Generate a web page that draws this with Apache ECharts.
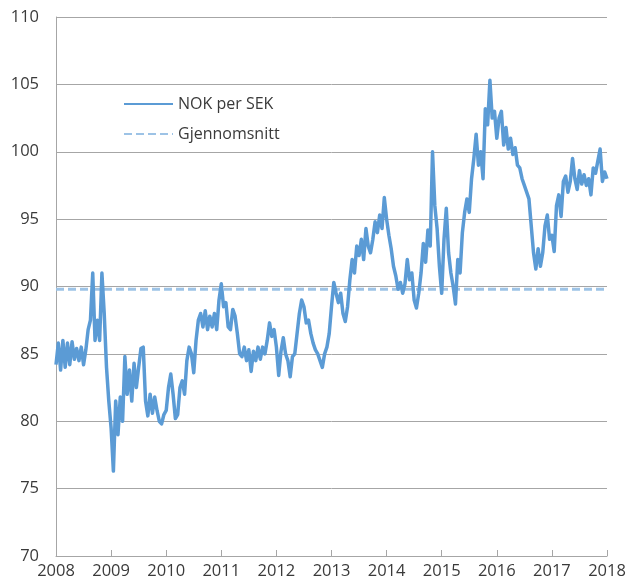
<!DOCTYPE html>
<html>
<head>
<meta charset="utf-8">
<script src="https://cdn.jsdelivr.net/npm/echarts@6/dist/echarts.min.js"></script>
<style>
  html, body { margin: 0; padding: 0; background: #fff; }
  #chart { width: 629px; height: 585px; }
</style>
</head>
<body>
<div id="chart"></div>
<script>
// NOK per SEK, half-monthly readings (24 per year), 2008–2017, plus the last reading
const startYear = 2008;
const stepsPerYear = 24;
const nok2008 = [84.2, 85.8, 83.8, 86.0, 84.0, 85.8, 84.2, 85.9, 84.6, 85.4, 84.5, 85.5, 84.2, 85.3, 86.8, 87.5, 91.0, 86.0, 87.5, 86.0, 91.0, 88.0, 84.0, 81.5];
const nok2009 = [79.5, 76.3, 81.5, 79.0, 81.8, 80.0, 84.8, 82.0, 83.8, 81.5, 84.3, 82.5, 84.0, 85.4, 85.5, 81.5, 80.4, 82.0, 80.6, 81.8, 80.8, 80.0, 79.8, 80.5];
const nok2010 = [80.8, 82.5, 83.5, 82.0, 80.2, 80.5, 82.5, 83.0, 82.0, 84.5, 85.5, 85.0, 83.6, 86.0, 87.5, 88.0, 87.0, 88.2, 86.8, 87.8, 87.0, 88.0, 86.8, 89.0];
const nok2011 = [90.2, 88.5, 88.8, 87.0, 86.8, 88.3, 87.8, 86.5, 85.0, 84.8, 85.5, 84.5, 85.3, 83.7, 85.2, 84.5, 85.5, 84.6, 85.5, 85.0, 86.0, 87.3, 86.3, 86.8];
const nok2012 = [85.5, 83.4, 85.2, 86.2, 85.0, 84.5, 83.3, 84.8, 85.0, 86.5, 88.0, 89.0, 88.5, 87.3, 87.5, 86.5, 85.8, 85.3, 85.0, 84.5, 84.0, 85.0, 85.5, 86.5];
const nok2013 = [88.5, 90.3, 89.5, 88.8, 89.5, 88.0, 87.4, 88.5, 90.5, 92.0, 91.0, 93.0, 92.3, 93.5, 92.0, 94.3, 93.0, 92.5, 93.5, 94.8, 94.0, 95.3, 94.3, 96.6];
const nok2014 = [95.0, 93.8, 92.8, 91.5, 90.8, 89.8, 90.3, 89.5, 90.2, 92.0, 90.5, 91.0, 89.0, 88.4, 89.5, 91.0, 93.2, 91.8, 94.2, 93.0, 100.0, 96.0, 94.3, 91.5];
const nok2015 = [89.5, 93.5, 95.8, 92.5, 91.0, 90.0, 88.7, 92.0, 91.0, 94.0, 95.5, 96.5, 95.5, 98.0, 99.5, 101.3, 99.0, 100.0, 98.0, 103.2, 102.0, 105.3, 102.5, 103.0];
const nok2016 = [101.0, 102.5, 103.0, 100.5, 101.8, 100.2, 101.0, 99.8, 100.3, 99.0, 98.8, 98.0, 97.5, 97.0, 96.5, 94.5, 92.5, 91.3, 92.8, 91.5, 92.5, 94.5, 95.3, 93.5];
const nok2017 = [93.8, 92.6, 96.0, 96.8, 95.2, 97.8, 98.2, 97.0, 97.8, 99.5, 98.0, 97.2, 98.6, 97.6, 98.3, 97.5, 98.0, 96.8, 98.8, 98.4, 99.3, 100.2, 97.8, 98.5];
const nokLast = [98.0];

// Average level over the period
const meanYears = [2008, 2018];
const meanLevel = [89.8, 89.8];

// Axis ticks
const yearTicks = [2008, 2009, 2010, 2011, 2012, 2013, 2014, 2015, 2016, 2017, 2018];
const valueTicks = [70, 75, 80, 85, 90, 95, 100, 105, 110];

const nokAll = [].concat(nok2008, nok2009, nok2010, nok2011, nok2012,
                         nok2013, nok2014, nok2015, nok2016, nok2017, nokLast);
const nokData = nokAll.map((v, i) => [startYear + i / stepsPerYear, v]);
const meanData = meanYears.map((y, i) => [y, meanLevel[i]]);

const font = "'Open Sans', 'Noto Sans', sans-serif";
const textColor = '#3a3a3a';
const gridColor = '#a6a6a6';

const chart = echarts.init(document.getElementById('chart'), null, { renderer: 'canvas' });
chart.setOption({
  animation: false,
  backgroundColor: '#ffffff',
  grid: { left: 56, right: 22, top: 17, bottom: 29, containLabel: false },
  legend: {
    orient: 'vertical',
    left: 123,
    top: 96,
    padding: 0,
    itemWidth: 49,
    itemHeight: 14,
    itemGap: 14,
    // line-only keys: hide the marker drawn in the middle of each key
    itemStyle: { opacity: 0 },
    textStyle: { fontFamily: font, fontSize: 16, color: textColor },
    data: ['NOK per SEK', 'Gjennomsnitt']
  },
  xAxis: {
    type: 'value',
    min: yearTicks[0],
    max: yearTicks[yearTicks.length - 1],
    interval: 1,
    axisLine: { show: true, lineStyle: { color: gridColor, width: 1 } },
    axisTick: { show: true, inside: true, length: 6, lineStyle: { color: gridColor } },
    splitLine: { show: false },
    axisLabel: {
      fontFamily: font, fontSize: 16.5, color: textColor, margin: 7,
      formatter: v => String(Math.round(v))
    }
  },
  yAxis: {
    type: 'value',
    min: valueTicks[0],
    max: valueTicks[valueTicks.length - 1],
    interval: 5,
    axisLine: { show: true, lineStyle: { color: gridColor, width: 1 } },
    axisTick: { show: false },
    splitLine: { show: true, lineStyle: { color: gridColor, width: 1 } },
    axisLabel: { fontFamily: font, fontSize: 16.5, color: textColor, margin: 17 }
  },
  series: [
    {
      name: 'NOK per SEK',
      type: 'line',
      data: nokData,
      symbol: 'none',
      z: 3,
      lineStyle: { color: '#5b9bd5', width: 3.5, join: 'round' },
      itemStyle: { color: '#5b9bd5' }
    },
    {
      name: 'Gjennomsnitt',
      type: 'line',
      data: meanData,
      symbol: 'none',
      z: 2,
      lineStyle: { color: '#9dc3e6', width: 3, type: [8, 4] },
      itemStyle: { color: '#9dc3e6' }
    }
  ]
});
</script>
</body>
</html>
